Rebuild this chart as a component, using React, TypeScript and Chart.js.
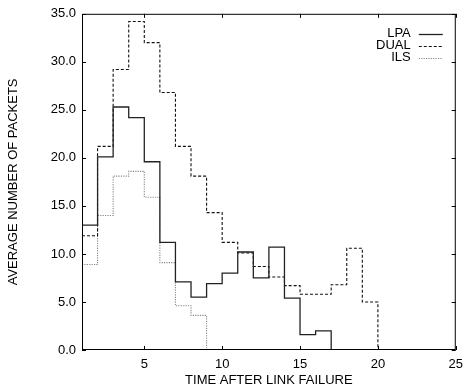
import React, { useEffect, useRef } from "react";
import { Chart, registerables } from "chart.js";

Chart.register(...registerables);

// Average packets per one-unit time bin after a link failure; bins start at t = 1.
const BIN_START = 1;
const lpaValues = [13.0, 20.1, 25.3, 24.2, 19.6, 11.2, 7.1, 5.5, 6.9, 8.0, 10.2, 7.5, 10.7, 5.4, 1.6, 2.0];
const dualValues = [11.9, 21.2, 29.2, 34.2, 32.0, 26.8, 21.2, 18.1, 14.3, 11.2, 10.1, 8.7, 7.6, 6.7, 5.8, 5.8, 6.8, 10.6, 5.0];
const ilsValues = [8.9, 14.0, 18.1, 18.6, 15.9, 9.1, 4.6, 3.6];

const xTicks = [5, 10, 15, 20, 25];
const yTicks = [0, 5, 10, 15, 20, 25, 30, 35];

const FONT = "'Liberation Sans', Arial, Helvetica, sans-serif";

// Turn bin values into step points: each bin holds its value over [t, t+1], then drops to zero.
function toSteps(values: number[]) {
  const pts = values.map((v, i) => ({ x: BIN_START + i, y: v }));
  pts.push({ x: BIN_START + values.length, y: 0 });
  return pts;
}

// Frame with inward tick marks on all four sides, plus the legend in the top-right corner.
const framePlugin = {
  id: "frame",
  afterDraw(chart: any) {
    const { ctx, chartArea } = chart;
    const { left, right, top, bottom } = chartArea;
    const xs = chart.scales.x;
    const ys = chart.scales.y;
    const len = 4;
    ctx.save();
    ctx.strokeStyle = "#000";
    ctx.lineWidth = 1;
    ctx.setLineDash([]);
    ctx.strokeRect(left + 0.5, top + 0.5, right - left - 1, bottom - top - 1);
    ctx.beginPath();
    xTicks.forEach((t) => {
      const px = Math.round(xs.getPixelForValue(t)) + 0.5;
      ctx.moveTo(px, bottom);
      ctx.lineTo(px, bottom - len);
      ctx.moveTo(px, top);
      ctx.lineTo(px, top + len);
    });
    yTicks.forEach((t) => {
      const py = Math.round(ys.getPixelForValue(t)) + 0.5;
      ctx.moveTo(left, py);
      ctx.lineTo(left + len, py);
      ctx.moveTo(right, py);
      ctx.lineTo(right - len, py);
    });
    ctx.stroke();

    // Legend
    const textRight = right - 45;
    const lineStart = right - 37;
    const lineEnd = right - 13;
    ctx.font = `13px ${FONT}`;
    ctx.textAlign = "right";
    ctx.textBaseline = "middle";
    chart.data.datasets.forEach((ds: any, i: number) => {
      const y = top + 20 + i * 12;
      ctx.fillStyle = "#000";
      ctx.fillText(ds.label, textRight, y);
      ctx.strokeStyle = ds.borderColor;
      ctx.lineWidth = ds.borderWidth;
      ctx.setLineDash(ds.borderDash || []);
      ctx.beginPath();
      ctx.moveTo(lineStart, Math.round(y) + 0.5);
      ctx.lineTo(lineEnd, Math.round(y) + 0.5);
      ctx.stroke();
    });
    ctx.restore();
  },
};

export default function App() {
  const canvasRef = useRef<HTMLCanvasElement | null>(null);

  useEffect(() => {
    const canvas = canvasRef.current;
    if (!canvas) return;
    const chart = new Chart(canvas, {
      type: "line",
      data: {
        datasets: [
          {
            label: "LPA",
            data: toSteps(lpaValues),
            stepped: "before",
            borderColor: "#222",
            borderWidth: 1.3,
            pointRadius: 0,
            fill: false,
          },
          {
            label: "DUAL",
            data: toSteps(dualValues),
            stepped: "before",
            borderColor: "#111",
            borderWidth: 1.1,
            borderDash: [3, 2],
            pointRadius: 0,
            fill: false,
          },
          {
            label: "ILS",
            data: toSteps(ilsValues),
            stepped: "before",
            borderColor: "#888",
            borderWidth: 1.1,
            borderDash: [1.2, 1.2],
            pointRadius: 0,
            fill: false,
          },
        ],
      },
      options: {
        responsive: false,
        animation: false,
        events: [],
        layout: { padding: { top: 12, right: 8, left: 0, bottom: 0 } },
        plugins: {
          legend: { display: false },
          tooltip: { enabled: false },
        },
        scales: {
          x: {
            type: "linear",
            min: 1,
            max: 25,
            border: { display: false },
            grid: { display: false, drawTicks: false },
            afterBuildTicks: (scale: any) => {
              scale.ticks = xTicks.map((v) => ({ value: v }));
            },
            afterFit: (scale: any) => {
              scale.height = 41;
            },
            ticks: {
              color: "#000",
              padding: 7,
              maxRotation: 0,
              font: { family: FONT, size: 13 },
              callback: (v: any) => String(v),
            },
            title: {
              display: true,
              text: "TIME AFTER LINK FAILURE",
              color: "#000",
              padding: { top: 0, bottom: 3 },
              font: { family: FONT, size: 13 },
            },
          },
          y: {
            type: "linear",
            min: 0,
            max: 35,
            border: { display: false },
            grid: { display: false, drawTicks: false },
            afterBuildTicks: (scale: any) => {
              scale.ticks = yTicks.map((v) => ({ value: v }));
            },
            afterFit: (scale: any) => {
              scale.width = 82;
            },
            ticks: {
              color: "#000",
              padding: 6,
              font: { family: FONT, size: 13 },
              callback: (v: any) => Number(v).toFixed(1),
            },
            title: {
              display: true,
              text: "AVERAGE NUMBER OF PACKETS",
              color: "#000",
              padding: { top: 6, bottom: 0 },
              font: { family: FONT, size: 13 },
            },
          },
        },
      },
      plugins: [framePlugin],
    });
    return () => chart.destroy();
  }, []);

  return (
    <div style={{ position: "fixed", left: 0, top: 0, width: 470, height: 391, background: "#fff" }}>
      <canvas ref={canvasRef} width={470} height={391} style={{ display: "block" }} />
    </div>
  );
}
